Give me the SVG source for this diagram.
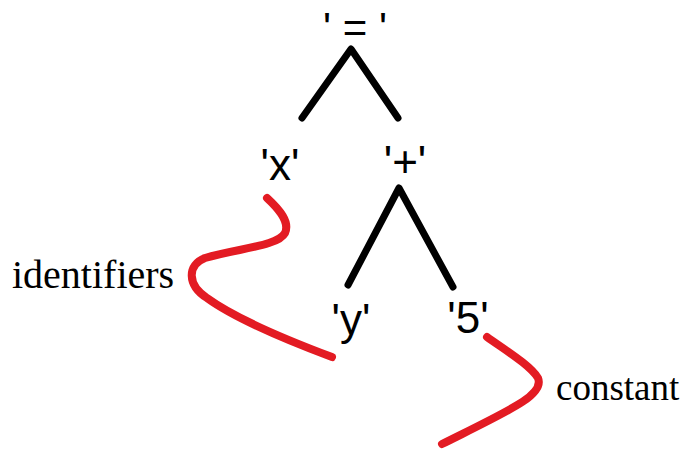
<svg xmlns="http://www.w3.org/2000/svg" width="688" height="449" viewBox="0 0 688 449">
<style>
.node{font-family:"Liberation Sans",Arial,sans-serif;font-size:44px;fill:#000;text-anchor:middle}
.lbl{font-family:"Liberation Serif","Times New Roman",serif;font-size:37px;fill:#000}
.edge{stroke:#000;stroke-width:7;fill:none;stroke-linecap:round;stroke-linejoin:round}
.red{stroke:#e31b23;stroke-width:8;fill:none;stroke-linecap:round;stroke-linejoin:round}
</style>
<rect width="688" height="449" fill="#fff"/>
<g id="connectors">
<polyline class="edge" points="302,118 351,49 398,118"/>
<polyline class="edge" points="348,285 399,188 453,287"/>
</g>
<g id="n-eq"><text class="node" x="355" y="42" style="font-size:42px">' = '</text></g>
<g id="n-x"><text class="node" x="280" y="180">'x'</text></g>
<g id="n-plus"><text class="node" x="405" y="177">'+'</text></g>
<g id="n-y"><text class="node" x="351" y="335">'y'</text></g>
<g id="n-5"><text class="node" x="468" y="333">'5'</text></g>
<g id="identifiers">
<path class="red" d="M267,198 C280,210 290,222 285,233 C278,246 240,248 205,258 C187,265 187,285 207,298 C240,322 300,345 332,357"/>
<text class="lbl" x="12" y="288" style="font-size:40px">identifiers</text>
</g>
<g id="constant">
<path class="red" d="M487,337 C505,350 530,365 538,378 C545,395 510,410 442,444"/>
<text class="lbl" x="556" y="400">constant</text>
</g>
</svg>
